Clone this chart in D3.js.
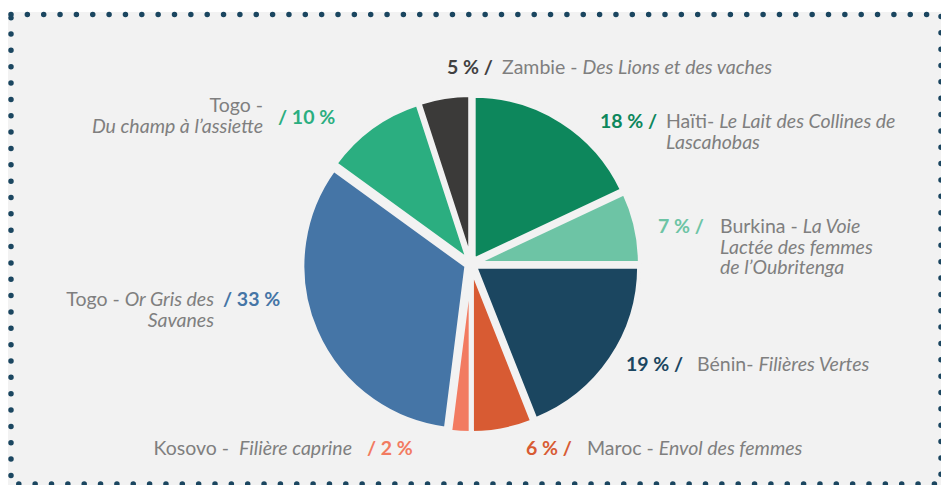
<!DOCTYPE html>
<html>
<head>
<meta charset="utf-8">
<script src="https://cdn.jsdelivr.net/npm/d3@7"></script>
<style>
  body { margin: 0; background: #fff; }
  text { white-space: pre; }
</style>
</head>
<body>
<div id="chart-area"></div>
<script>
// slices, clockwise from 12 o'clock
var countries = ["Haïti-", "Burkina -", "Bénin-", "Maroc -", "Kosovo - ", "Togo -", "Togo -", "Zambie -"];
var projects = [
    "Le Lait des Collines de\nLascahobas",
    "La Voie\nLactée des femmes\nde l’Oubritenga",
    "Filières Vertes",
    "Envol des femmes",
    "Filière caprine",
    "Or Gris des\nSavanes",
    "\nDu champ à l’assiette",
    "Des Lions et des vaches"
];
var shares = [18, 7, 19, 6, 2, 33, 10, 5];
var colors = ["#0d875c", "#6dc4a5", "#1b4660", "#d85b33", "#f27b61", "#4575a6", "#2bae80", "#3b3a39"];
var pctColors = ["#0d875c", "#6dc4a5", "#1b4660", "#d85b33", "#f27b61", "#4575a6", "#2bae80", "#404040"];

// where each label sits (pct block and text block)
var labelLayout = [
    { pctFirst: true,  px: 600, py: 128, tx: 666, ty: 128, anchor: "start" },
    { pctFirst: true,  px: 658, py: 233, tx: 720, ty: 233, anchor: "start" },
    { pctFirst: true,  px: 626, py: 371, tx: 697, ty: 371, anchor: "start" },
    { pctFirst: true,  px: 526, py: 455, tx: 587, ty: 455, anchor: "start" },
    { pctFirst: false, px: 367, py: 455, tx: 352, ty: 455, anchor: "end" },
    { pctFirst: false, px: 223, py: 306, tx: 214, ty: 306, anchor: "end" },
    { pctFirst: false, px: 278, py: 124, tx: 263, ty: 112, anchor: "end" },
    { pctFirst: true,  px: 447, py: 74,  tx: 502, ty: 74,  anchor: "start" }
];

var width = 941, height = 485;
var cx = 471, cy = 264, radius = 164, explode = 5;
var fontFamily = "Lato, 'Open Sans', sans-serif";
var lineH = 20.5;

var svg = d3.select("#chart-area")
    .append("svg")
        .attr("width", width)
        .attr("height", height);

// panel + dotted frame
svg.append("rect")
    .attr("x", 8).attr("y", 12)
    .attr("width", width - 8).attr("height", height - 12)
    .attr("fill", "#f2f2f2");
svg.append("rect")
    .attr("x", 11).attr("y", 14.5)
    .attr("width", 930).attr("height", 469.5)
    .attr("fill", "none")
    .attr("stroke", "#1b4660")
    .attr("stroke-width", 5.5)
    .attr("stroke-linecap", "round")
    .attr("stroke-dasharray", "0 16.35");

var pie = d3.pie().sort(null).value(function(d){ return d; });
var arc = d3.arc().innerRadius(0).outerRadius(radius);
var arcs = pie(shares);

var g = svg.append("g").attr("transform", "translate(" + cx + "," + cy + ")");

g.selectAll("path")
        .data(arcs)
    .enter()
        .append("path")
        .attr("d", arc)
        .attr("transform", function(d){
            var mid = (d.startAngle + d.endAngle) / 2;
            return "translate(" + (Math.sin(mid) * explode) + "," + (-Math.cos(mid) * explode) + ")";
        })
        .attr("fill", function(d, i){ return colors[i]; })
        .attr("stroke", "#f2f2f2")
        .attr("stroke-width", 4)
        .attr("stroke-linejoin", "round");

// labels
var labels = svg.append("g")
    .attr("font-family", fontFamily)
    .attr("font-size", 19.5);

arcs.forEach(function(d, i){
    var L = labelLayout[i];
    var pctText = L.pctFirst ? shares[i] + " % /" : "/ " + shares[i] + " %";

    labels.append("text")
        .attr("x", L.px).attr("y", L.py)
        .attr("font-weight", "bold")
        .attr("fill", pctColors[i])
        .text(pctText);

    var lines = projects[i].split("\n");
    var t = labels.append("text")
        .attr("text-anchor", L.anchor)
        .attr("fill", "#7f7f7f");

    lines.forEach(function(line, k){
        var lineEl = t.append("tspan")
            .attr("x", L.tx)
            .attr("y", L.ty + k * lineH);
        if (k === 0) {
            lineEl.append("tspan").text(countries[i] + (line ? " " : ""));
        }
        if (line) {
            lineEl.append("tspan").attr("font-style", "italic").text(line);
        }
    });
});
</script>
</body>
</html>
